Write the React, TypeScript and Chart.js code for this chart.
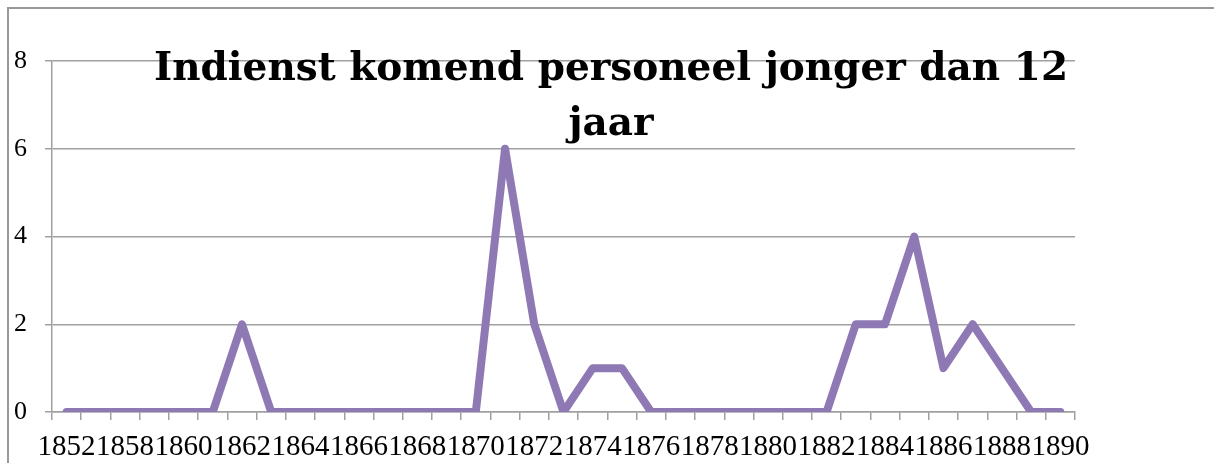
import React, { useEffect, useRef } from "react";
import { Chart, registerables } from "chart.js";

Chart.register(...registerables);

const years: string[] = [
  "1852", "1856", "1858", "1859", "1860", "1861", "1862", "1863", "1864", "1865",
  "1866", "1867", "1868", "1869", "1870", "1871", "1872", "1873", "1874", "1875",
  "1876", "1877", "1878", "1879", "1880", "1881", "1882", "1883", "1884", "1885",
  "1886", "1887", "1888", "1889", "1890",
];

const personeel: number[] = [
  0, 0, 0, 0, 0, 0, 2, 0, 0, 0,
  0, 0, 0, 0, 0, 6, 2, 0, 1, 1,
  0, 0, 0, 0, 0, 0, 0, 2, 2, 4,
  1, 2, 1, 0, 0,
];

const titleLines: string[] = ["Indienst komend personeel jonger dan 12", "jaar"];
const yTicks: number[] = [0, 2, 4, 6, 8];

const GRID = "#a0a0a0";
const LINE = "#8f79b4";

const titlePlugin = {
  id: "overlayTitle",
  afterDraw(chart: any) {
    const ctx = chart.ctx;
    ctx.save();
    ctx.fillStyle = "#000";
    ctx.font = "bold 39px 'DejaVu Serif'";
    ctx.textAlign = "center";
    ctx.textBaseline = "alphabetic";
    ctx.fillText(titleLines[0], 602, 71);
    ctx.fillText(titleLines[1], 602, 126);
    ctx.restore();
  },
};

export default function App() {
  const ref = useRef<HTMLCanvasElement | null>(null);
  useEffect(() => {
    if (!ref.current) return;
    const chart = new Chart(ref.current, {
      type: "line",
      data: {
        labels: years,
        datasets: [
          {
            label: "Indienst komend personeel jonger dan 12 jaar",
            data: personeel,
            borderColor: LINE,
            backgroundColor: LINE,
            borderWidth: 8,
            borderCapStyle: "round",
            borderJoinStyle: "round",
            pointRadius: 0,
            tension: 0,
          },
        ],
      },
      options: {
        responsive: false,
        animation: false,
        layout: { padding: { top: 52, right: 139, left: 0, bottom: 0 } },
        plugins: {
          legend: { display: false },
          title: { display: false },
          tooltip: { enabled: false },
        },
        scales: {
          x: {
            type: "category",
            offset: true,
            afterFit(scale: any) {
              scale.height = 51;
            },
            grid: {
              offset: true,
              drawOnChartArea: false,
              drawTicks: true,
              tickLength: 8,
              color: GRID,
              lineWidth: 1.5,
            },
            border: { display: true, color: GRID, width: 1.5 },
            ticks: {
              autoSkip: false,
              maxRotation: 0,
              minRotation: 0,
              padding: 10,
              color: "#000",
              font: { family: "'Liberation Serif'", size: 29 },
              callback: (_v: any, i: number) => (i % 2 === 0 ? years[i] : ""),
            },
          },
          y: {
            min: 0,
            max: 8,
            afterFit(scale: any) {
              scale.width = 43;
            },
            afterBuildTicks(scale: any) {
              scale.ticks = yTicks.map((v) => ({ value: v }));
            },
            grid: {
              drawTicks: true,
              tickLength: 7,
              color: GRID,
              lineWidth: 1.5,
            },
            border: { display: true, color: GRID, width: 1.5 },
            ticks: {
              padding: 18,
              color: "#000",
              font: { family: "'Liberation Serif'", size: 26 },
            },
          },
        },
      },
      plugins: [titlePlugin],
    });
    return () => chart.destroy();
  }, []);

  return (
    <div
      style={{
        position: "fixed",
        left: 7,
        top: 7,
        width: 1240,
        height: 480,
        borderTop: "2px solid #999",
        borderLeft: "2px solid #999",
        boxSizing: "border-box",
        background: "#fff",
      }}
    >
      <canvas ref={ref} width={1205} height={454} style={{ display: "block" }} />
    </div>
  );
}
